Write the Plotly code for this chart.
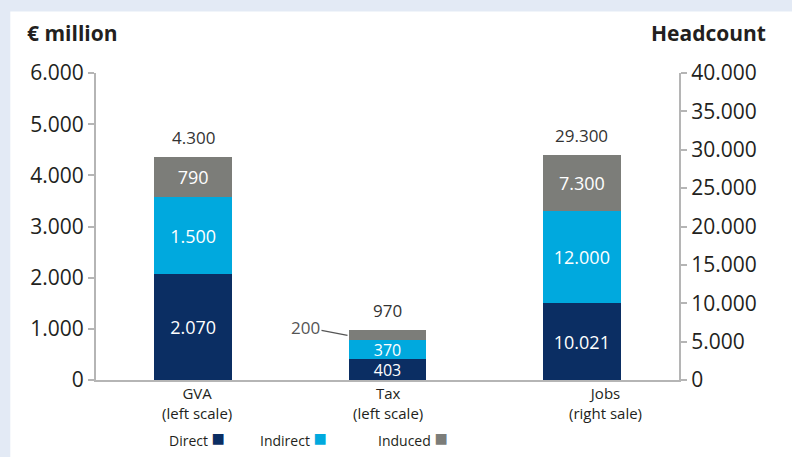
import plotly.graph_objects as go

categories = ["GVA", "Tax", "Jobs"]
cat_labels = ["GVA<br>(left scale)", "Tax<br>(left scale)", "Jobs<br>(right sale)"]
series = ["Direct", "Indirect", "Induced"]
colors = ["#0b2e63", "#00a9de", "#7c7d79"]

# left-scale values (€ million)
gva = [2070, 1500, 790]
tax = [403, 370, 200]
# right-scale values (headcount)
jobs = [10021, 12000, 7300]

totals = [4300, 970, 29300]

left_ticks = [0, 1000, 2000, 3000, 4000, 5000, 6000]
right_ticks = [0, 5000, 10000, 15000, 20000, 25000, 30000, 35000, 40000]

FONT = "Open Sans"
DARK = "#231f20"


def fmt(v):
    return f"{v:,}".replace(",", ".")


fig = go.Figure()

for i, name in enumerate(series):
    vals = [gva[i], tax[i]]
    texts = [fmt(gva[i]), fmt(tax[i]) if i < 2 else ""]
    fig.add_trace(go.Bar(
        x=["GVA", "Tax"], y=vals, name=name, marker_color=colors[i],
        marker_line_width=0, width=0.4,
        text=texts, textposition="inside", insidetextanchor="middle",
        textfont=dict(color="white", size=[18, 16], family=FONT),
        constraintext="none", showlegend=False, yaxis="y",
        hoverinfo="skip",
    ))
    fig.add_trace(go.Bar(
        x=["Jobs"], y=[jobs[i]], name=name, marker_color=colors[i],
        marker_line_width=0, width=0.4,
        text=[fmt(jobs[i])], textposition="inside", insidetextanchor="middle",
        textfont=dict(color="white", size=18, family=FONT),
        constraintext="none", showlegend=False, yaxis="y2",
        hoverinfo="skip",
    ))

annotations = []
# totals above bars
sums = [sum(gva), sum(tax), sum(jobs)]
for cat, tot, s in zip(categories, totals, sums):
    annotations.append(dict(
        x=cat, y=s, yref="y2" if cat == "Jobs" else "y", text=fmt(tot),
        showarrow=False, yanchor="bottom", yshift=6,
        font=dict(size=17, color="#333333", family=FONT)))

# 200 label with leader line
annotations.append(dict(
    x="Tax", y=sum(tax) - tax[2] / 2, yref="y", text=fmt(tax[2]),
    showarrow=True, arrowhead=0, arrowwidth=1.3, arrowcolor="#555555",
    ax=-42, ay=-8, xshift=-40, standoff=0,
    font=dict(size=17, color="#555555", family=FONT)))

# category labels
cat_shift = [4, 0, 24]
for cat, lab, sh in zip(categories, cat_labels, cat_shift):
    annotations.append(dict(
        x=cat, y=0, yref="y", text=lab, showarrow=False, yanchor="top",
        xshift=sh, yshift=-1, align="center",
        font=dict(size=15, color=DARK, family=FONT)))

# axis titles
annotations.append(dict(
    x=-0.122, y=1.13, xref="paper", yref="paper", text="<b>€ million</b>",
    showarrow=False, xanchor="left", yanchor="middle",
    font=dict(size=21, color=DARK, family=FONT)))
annotations.append(dict(
    x=1.153, y=1.13, xref="paper", yref="paper", text="<b>Headcount</b>",
    showarrow=False, xanchor="right", yanchor="middle",
    font=dict(size=21, color=DARK, family=FONT)))

# legend (text followed by colour square)
leg_x = [0.1218, 0.2779, 0.4803]
for name, c, lx in zip(series, colors, leg_x):
    annotations.append(dict(
        x=lx, y=-0.185, xref="paper", yref="paper",
        text=f"{name} <span style='color:{c};font-size:22px'>■</span>",
        showarrow=False, xanchor="left", yanchor="middle",
        font=dict(size=14, color=DARK, family=FONT)))

axis_color = "#b5b5b5"
fig.update_layout(
    width=792, height=457,
    margin=dict(l=96, r=113, t=73, b=77),
    paper_bgcolor="#e3eaf5", plot_bgcolor="white",
    barmode="stack", bargap=0.6,
    separators=",.",
    font=dict(family=FONT, color=DARK),
    xaxis=dict(categoryorder="array", categoryarray=categories,
               showticklabels=False, ticks="", showgrid=False,
               showline=True, linecolor=axis_color, linewidth=2,
               zeroline=False, fixedrange=True),
    yaxis=dict(range=[0, 6000], tickvals=left_ticks,
               ticktext=[fmt(v) for v in left_ticks],
               showgrid=False, zeroline=False, showline=True,
               linecolor=axis_color, linewidth=2, ticks="outside",
               ticklen=6, tickcolor=axis_color, tickwidth=1.5,
               tickfont=dict(size=21, color=DARK, family=FONT)),
    yaxis2=dict(range=[0, 40000], tickvals=right_ticks,
                ticktext=[fmt(v) for v in right_ticks],
                overlaying="y", side="right",
                showgrid=False, zeroline=False, showline=True,
                linecolor=axis_color, linewidth=2, ticks="outside",
                ticklen=6, tickcolor=axis_color, tickwidth=1.5,
                tickfont=dict(size=21, color=DARK, family=FONT)),
    annotations=annotations,
    shapes=[dict(type="rect", xref="paper", yref="paper",
                 x0=-0.147, x1=1.3, y0=-0.4, y1=1.2,
                 fillcolor="white", line_width=0, layer="below")],
    showlegend=False,
)

fig.write_html("out.html",
               config={"displayModeBar": False},
               post_script="document.body.style.margin='0';"
                           "document.body.style.overflow='hidden';")
